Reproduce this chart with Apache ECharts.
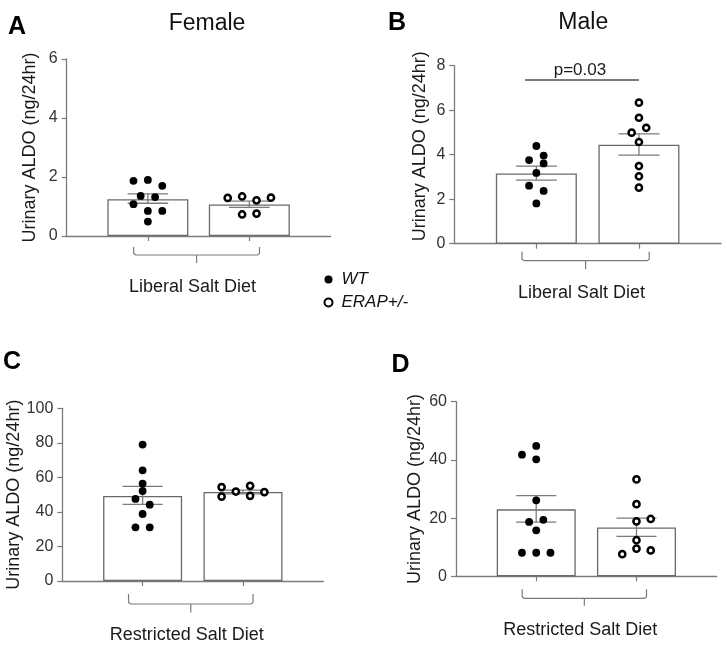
<!DOCTYPE html>
<html><head><meta charset="utf-8">
<script src="https://cdn.jsdelivr.net/npm/echarts@6/dist/echarts.min.js"></script>
<style>html,body{margin:0;padding:0;background:#fff}#c{width:727px;height:659px}</style>
</head><body><div id="c"></div>
<script>
// ---------------- DATA ----------------
const groupNames = ['WT', 'ERAP+/-'];
const yAxisTitle = 'Urinary ALDO (ng/24hr)';

// Panel A: Female, Liberal Salt Diet
const wtA      = [1.87, 1.90, 1.70, 1.36, 1.32, 1.08, 0.85, 0.85, 0.49];
const wtColA   = [-2, 0, 2, -1, 1, -2, 0, 2, 0];
const erapA    = [1.29, 1.34, 1.21, 1.30, 0.73, 0.76];
const erapColA = [-3, -1, 1, 3, -1, 1];
const meanA    = [1.25, 1.07];
const errLoA   = [1.11, 0.97];
const errHiA   = [1.43, 1.18];
const ticksA   = [0, 2, 4, 6];

// Panel B: Male, Liberal Salt Diet
const wtB      = [4.39, 3.76, 3.96, 3.61, 2.61, 2.37, 3.18, 1.81];
const wtColB   = [0, -1, 1, 1, -1, 1, 0, 0];
const erapB    = [6.34, 5.66, 5.21, 4.99, 4.57, 3.49, 3.03, 2.52];
const erapColB = [0, 0, 1, -1, 0, 0, 0, 0];
const meanB    = [3.16, 4.45];
const errLoB   = [2.86, 3.98];
const errHiB   = [3.49, 4.94];
const ticksB   = [0, 2, 4, 6, 8];
const pTextB   = 'p=0.03';
const pLevelB  = 7.36;

// Panel C: Female, Restricted Salt Diet
const wtC      = [79.0, 64.1, 56.4, 52.1, 47.5, 44.2, 38.8, 31.1, 31.1];
const wtColC   = [0, 0, 0, 0, -1, 1, 0, -1, 1];
const erapC    = [54.4, 48.9, 51.8, 55.1, 49.3, 51.5];
const erapColC = [-3, -3, -1, 1, 1, 3];
const meanC    = [49.2, 51.5];
const errLoC   = [44.4, 50.5];
const errHiC   = [54.8, 52.6];
const ticksC   = [0, 20, 40, 60, 80, 100];

// Panel D: Male, Restricted Salt Diet
const wtD      = [44.8, 41.8, 40.2, 26.1, 18.7, 19.4, 15.8, 8.1, 8.1, 8.1];
const wtColD   = [0, -2, 0, 0, -1, 1, 0, -2, 0, 2];
const erapD    = [33.3, 24.8, 18.9, 19.7, 12.4, 9.5, 8.9, 7.6];
const erapColD = [0, 0, 0, 2, 0, 0, 2, -2];
const meanD    = [23.0, 16.8];
const errLoD   = [18.6, 13.7];
const errHiD   = [27.7, 20.0];
const ticksD   = [0, 20, 40, 60];

const dietLabels = ['Liberal Salt Diet', 'Liberal Salt Diet', 'Restricted Salt Diet', 'Restricted Salt Diet'];
const titles = ['Female', 'Male'];
const letters = ['A', 'B', 'C', 'D'];

// ---------------- LAYOUT / STYLE ----------------
const FONT = '"Liberation Sans", Arial, Helvetica, sans-serif';
const GRAY = '#7b7b7b';
const panels = [
  {wt: wtA, wtCol: wtColA, erap: erapA, erapCol: erapColA, mean: meanA, lo: errLoA, hi: errHiA, ticks: ticksA,
   grid: {left: 66.7, top: 59, width: 263.8, height: 177}, nameGap: 28, namePad: 0, barW: 81, br: [11, 19, 27], lblDy: 51},
  {wt: wtB, wtCol: wtColB, erap: erapB, erapCol: erapColB, mean: meanB, lo: errLoB, hi: errHiB, ticks: ticksB,
   grid: {left: 454.3, top: 65.7, width: 266.7, height: 178}, nameGap: 25, namePad: 17, barW: 81, br: [8, 17, 25.5], lblDy: 49.6},
  {wt: wtC, wtCol: wtColC, erap: erapC, erapCol: erapColC, mean: meanC, lo: errLoC, hi: errHiC, ticks: ticksC,
   grid: {left: 62.3, top: 408.3, width: 261, height: 172.7}, nameGap: 30, namePad: 0, barW: 79, br: [13, 23, 31.5], lblDy: 54},
  {wt: wtD, wtCol: wtColD, erap: erapD, erapCol: erapColD, mean: meanD, lo: errLoD, hi: errHiD, ticks: ticksD,
   grid: {left: 456, top: 401.7, width: 260.7, height: 174.6}, nameGap: 32, namePad: 0, barW: 79, br: [13, 22, 29.5], lblDy: 53.7}
];
const COL_STEP = 0.071;

const grids = [], xAxes = [], yAxes = [], series = [];
panels.forEach((p, i) => {
  grids.push(Object.assign({containLabel: false}, p.grid));
  const t = p.ticks;
  xAxes.push({
    type: 'value', gridIndex: i, min: -0.8, max: 1.8,
    axisLine: {show: true, onZero: false, lineStyle: {color: GRAY, width: 1.3}},
    axisTick: {show: true, customValues: [0, 1], length: 5, lineStyle: {color: GRAY, width: 1.2}},
    axisLabel: {show: false}, splitLine: {show: false}
  });
  yAxes.push({
    type: 'value', gridIndex: i, min: t[0], max: t[t.length - 1], interval: t[1] - t[0],
    name: yAxisTitle, nameLocation: 'middle', nameGap: p.nameGap,
    nameTextStyle: {fontSize: 18, color: '#1a1a1a', fontFamily: FONT, padding: [0, 0, 0, p.namePad]},
    axisLine: {show: true, onZero: false, lineStyle: {color: GRAY, width: 1.3}},
    axisTick: {show: true, length: 5, lineStyle: {color: GRAY, width: 1.2}},
    axisLabel: {fontSize: 16, color: '#333', fontFamily: FONT, margin: 9},
    splitLine: {show: false}
  });
  // bars
  series.push({
    type: 'bar', xAxisIndex: i, yAxisIndex: i, barWidth: p.barW, silent: true,
    data: p.mean.map((m, k) => [k, m]),
    itemStyle: {color: '#fff', borderColor: '#6a6a6a', borderWidth: 1.3}, z: 2
  });
  // error bars (SEM)
  series.push({
    type: 'custom', xAxisIndex: i, yAxisIndex: i, silent: true, z: 3,
    data: p.mean.map((m, k) => [k, p.lo[k], p.hi[k]]),
    renderItem: function (params, api) {
      const x = api.value(0), lo = api.value(1), hi = api.value(2);
      const a = api.coord([x, lo]), b = api.coord([x, hi]);
      const l1 = api.coord([x - 0.2, hi]), r1 = api.coord([x + 0.2, hi]);
      const l2 = api.coord([x - 0.2, lo]), r2 = api.coord([x + 0.2, lo]);
      const st = {stroke: GRAY, lineWidth: 1.3};
      return {type: 'group', children: [
        {type: 'line', shape: {x1: a[0], y1: a[1], x2: b[0], y2: b[1]}, style: st},
        {type: 'line', shape: {x1: l1[0], y1: l1[1], x2: r1[0], y2: r1[1]}, style: st},
        {type: 'line', shape: {x1: l2[0], y1: l2[1], x2: r2[0], y2: r2[1]}, style: st}
      ]};
    }
  });
  // points
  series.push({
    type: 'scatter', name: groupNames[0], xAxisIndex: i, yAxisIndex: i, z: 5,
    symbol: 'circle', symbolSize: 7.8,
    data: p.wt.map((v, k) => [0 + p.wtCol[k] * COL_STEP, v]),
    itemStyle: {color: '#000', opacity: 1}
  });
  series.push({
    type: 'scatter', name: groupNames[1], xAxisIndex: i, yAxisIndex: i, z: 5,
    symbol: 'circle', symbolSize: 6.2,
    data: p.erap.map((v, k) => [1 + p.erapCol[k] * COL_STEP, v]),
    itemStyle: {color: '#fff', borderColor: '#000', borderWidth: 2.5, opacity: 1}
  });
  // bracket + diet label
  series.push({
    type: 'custom', xAxisIndex: i, yAxisIndex: i, silent: true, z: 4,
    data: [[0.48, 0]],
    renderItem: function (params, api) {
      const L = api.coord([-0.14, 0]), R = api.coord([1.1, 0]), M = api.coord([0.48, 0]);
      const T = api.coord([0.44, 0]);
      const y0 = L[1], b = p.br;
      const st = {stroke: GRAY, lineWidth: 1.2, fill: null};
      return {type: 'group', children: [
        {type: 'polyline', shape: {points: [[L[0], y0 + b[0]], [L[0], y0 + b[1] - 1.5], [L[0] + 2, y0 + b[1]],
          [R[0] - 2, y0 + b[1]], [R[0], y0 + b[1] - 1.5], [R[0], y0 + b[0]]]}, style: st},
        {type: 'line', shape: {x1: M[0], y1: y0 + b[1], x2: M[0], y2: y0 + b[2]}, style: st},
        {type: 'text', x: T[0], y: y0 + p.lblDy, style: {text: dietLabels[i], font: '18px ' + FONT,
          fill: '#1a1a1a', align: 'center', verticalAlign: 'middle'}}
      ]};
    }
  });
});

// p-value annotation in panel B
series.push({
  type: 'custom', xAxisIndex: 1, yAxisIndex: 1, silent: true, z: 4,
  data: [[-0.11, 1.0, pLevelB]],
  renderItem: function (params, api) {
    const a = api.coord([api.value(0), api.value(2)]), b = api.coord([api.value(1), api.value(2)]);
    const tx = api.coord([0.425, api.value(2)]);
    return {type: 'group', children: [
      {type: 'line', shape: {x1: a[0], y1: a[1], x2: b[0], y2: b[1]}, style: {stroke: GRAY, lineWidth: 2}},
      {type: 'text', x: tx[0], y: a[1] - 10, style: {text: pTextB, font: '17px ' + FONT, fill: '#1a1a1a',
        align: 'center', verticalAlign: 'middle'}}
    ]};
  }
});

const graphic = [
  {type: 'text', x: 8, y: 27.5, style: {text: letters[0], font: 'bold 25px ' + FONT, fill: '#000', verticalAlign: 'middle'}},
  {type: 'text', x: 388, y: 23.5, style: {text: letters[1], font: 'bold 25px ' + FONT, fill: '#000', verticalAlign: 'middle'}},
  {type: 'text', x: 3, y: 362, style: {text: letters[2], font: 'bold 25px ' + FONT, fill: '#000', verticalAlign: 'middle'}},
  {type: 'text', x: 391.5, y: 365, style: {text: letters[3], font: 'bold 25px ' + FONT, fill: '#000', verticalAlign: 'middle'}},
  {type: 'text', x: 207, y: 23.5, style: {text: titles[0], font: '23px ' + FONT, fill: '#111', align: 'center', verticalAlign: 'middle'}},
  {type: 'text', x: 583.3, y: 22.5, style: {text: titles[1], font: '23px ' + FONT, fill: '#111', align: 'center', verticalAlign: 'middle'}}
];

const chart = echarts.init(document.getElementById('c'), null, {renderer: 'canvas'});
chart.setOption({
  animation: false,
  backgroundColor: '#fff',
  textStyle: {fontFamily: FONT},
  grid: grids, xAxis: xAxes, yAxis: yAxes, series: series, graphic: graphic,
  legend: {
    orient: 'vertical', left: 318.5, top: 266, itemGap: 6, itemWidth: 16, itemHeight: 8,
    selectedMode: false,
    data: [{name: groupNames[0], icon: 'circle'}, {name: groupNames[1], icon: 'circle'}],
    textStyle: {fontSize: 17, fontStyle: 'italic', color: '#111', fontFamily: FONT, padding: [0, 0, 0, 0]}
  }
});
</script></body></html>
